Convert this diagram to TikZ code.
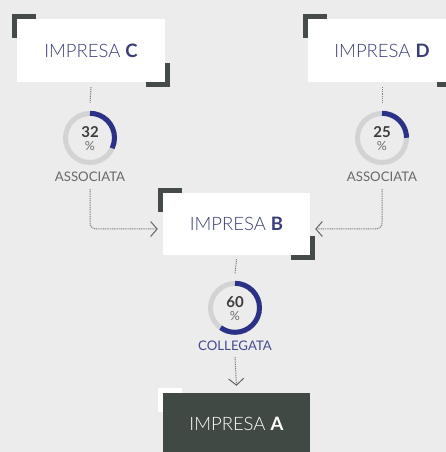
\documentclass[tikz,border=0pt]{standalone}
\usepackage{fontspec}
\IfFontExistsTF{Lato Light}
  {\setmainfont{Lato}[UprightFont=* Light, BoldFont=* Bold]}
  {\setmainfont{Lato}}
\newfontfamily\tagfont{Lato}
\usetikzlibrary{arrows.meta}

\definecolor{impBackground}{RGB}{236,236,236}
\definecolor{impBracket}{RGB}{69,75,72}
\definecolor{impDark}{RGB}{65,73,68}
\definecolor{impNavy}{RGB}{58,62,120}
\definecolor{impArc}{RGB}{43,49,135}
\definecolor{impRing}{RGB}{211,211,211}
\definecolor{impLabel}{RGB}{105,105,105}
\definecolor{impNumber}{RGB}{60,60,60}
\definecolor{impPercent}{RGB}{110,110,110}
\definecolor{impBlueLabel}{RGB}{69,74,143}
\definecolor{impLink}{RGB}{125,125,125}
\definecolor{impTip}{RGB}{100,100,100}

\newcommand\cornerTL[2][impBracket]{%
  \draw[bracket,#1] ([xshift=19pt,yshift=2.5pt]#2.north west)
    -- ([xshift=-2.5pt,yshift=2.5pt]#2.north west)
    -- ([xshift=-2.5pt,yshift=-19pt]#2.north west);}
\newcommand\cornerBR[2][impBracket]{%
  \draw[bracket,#1] ([xshift=-19pt,yshift=-2.5pt]#2.south east)
    -- ([xshift=2.5pt,yshift=-2.5pt]#2.south east)
    -- ([xshift=2.5pt,yshift=19pt]#2.south east);}

\begin{document}
\begin{tikzpicture}[x=1pt,y=1pt,
      company/.style={fill=white, minimum width=148pt, minimum height=63pt,
        inner sep=0pt, font=\fontsize{18.5}{20}\selectfont, text=impNavy},
      target/.style={company, fill=impDark, text=white},
      bracket/.style={line width=5pt, line join=miter},
      ring/.style={circle, minimum size=54pt, inner sep=0pt},
      share/.style={font=\fontsize{15}{15}\selectfont\bfseries, text=impNumber,
        inner sep=0pt},
      percent/.style={font=\tagfont\fontsize{12.5}{12}\selectfont,
        text=impPercent, inner sep=0pt},
      ringbase/.style={draw=impRing, line width=5pt},
      ringvalue/.style={draw=impArc, line width=5pt},
      tag/.style={font=\tagfont\fontsize{13.2}{14}\selectfont, text=impLabel,
        inner sep=0pt},
      link/.style={draw=impLink, line width=1pt, dash pattern=on 1pt off .8pt,
        -{Straight Barb[length=6.5pt,width=15pt,color=impTip,line width=1pt]}},
      plainlink/.style={draw=impLink, line width=1pt,
        dash pattern=on 1pt off .8pt}]
      \useasboundingbox (0,0) rectangle (446,452);
      \fill[impBackground] (0,0) rectangle (446,452);
      \clip (0,0) rectangle (446,452);

      % companies
      \node[company] (boxC) at (91,401.5) {IMPRESA \textbf{C}};
      \node[company] (boxD) at (382,401.5) {IMPRESA \textbf{D}};
      \node[company, minimum width=147pt, minimum height=62pt] (boxB)
        at (236.5,228) {IMPRESA \textbf{B}};
      \node[target, minimum width=147pt, minimum height=62pt] (boxA)
        at (236.5,28) {IMPRESA \textbf{A}};
      \cornerTL{boxC}\cornerBR{boxC}
      \cornerTL{boxD}\cornerBR{boxD}
      \cornerTL{boxB}\cornerBR{boxB}
      \cornerTL[white]{boxA}

      % shares
      \foreach \n/\x/\y/\p in {C/90/314/32, D/382/314/25, B/235/144/60}{
        \node[ring] (ring\n) at (\x,\y) {};
        \node[share] (share\n) at (\x,\y+6) {\p};
        \node[percent] (pct\n) at (\x,\y-8.5) {\%};
        \draw[ringbase] (ring\n) circle[radius=24.5];
        \draw[ringvalue] ([yshift=-2.5pt]ring\n.north)
          arc[start angle=90, delta angle=-3.6*\p, radius=24.5];}
      \node[tag] (tagC) at (90,275) {ASSOCIATA};
      \node[tag] (tagD) at (382,275) {ASSOCIATA};
      \node[tag, text=impBlueLabel] (tagB) at (235,106) {COLLEGATA};

      % links
      \draw[plainlink] ([yshift=-5pt]boxC.south) -- ([yshift=8pt]ringC.north);
      \draw[plainlink] ([yshift=-5pt]boxD.south) -- ([yshift=8pt]ringD.north);
      \draw[plainlink] ([yshift=-4pt]boxB.south) -- ([yshift=7pt]ringB.north);
      \draw[link, rounded corners=6pt] ([yshift=-7pt]tagC.south)
        |- ([xshift=-5pt,yshift=-5pt]boxB.west);
      \draw[link, rounded corners=6pt] ([yshift=-7pt]tagD.south)
        |- ([xshift=5pt,yshift=-5pt]boxB.east);
      \draw[link] ([yshift=-6pt]tagB.south) -- ([yshift=7pt]boxA.north);
    \end{tikzpicture}
\end{document}
